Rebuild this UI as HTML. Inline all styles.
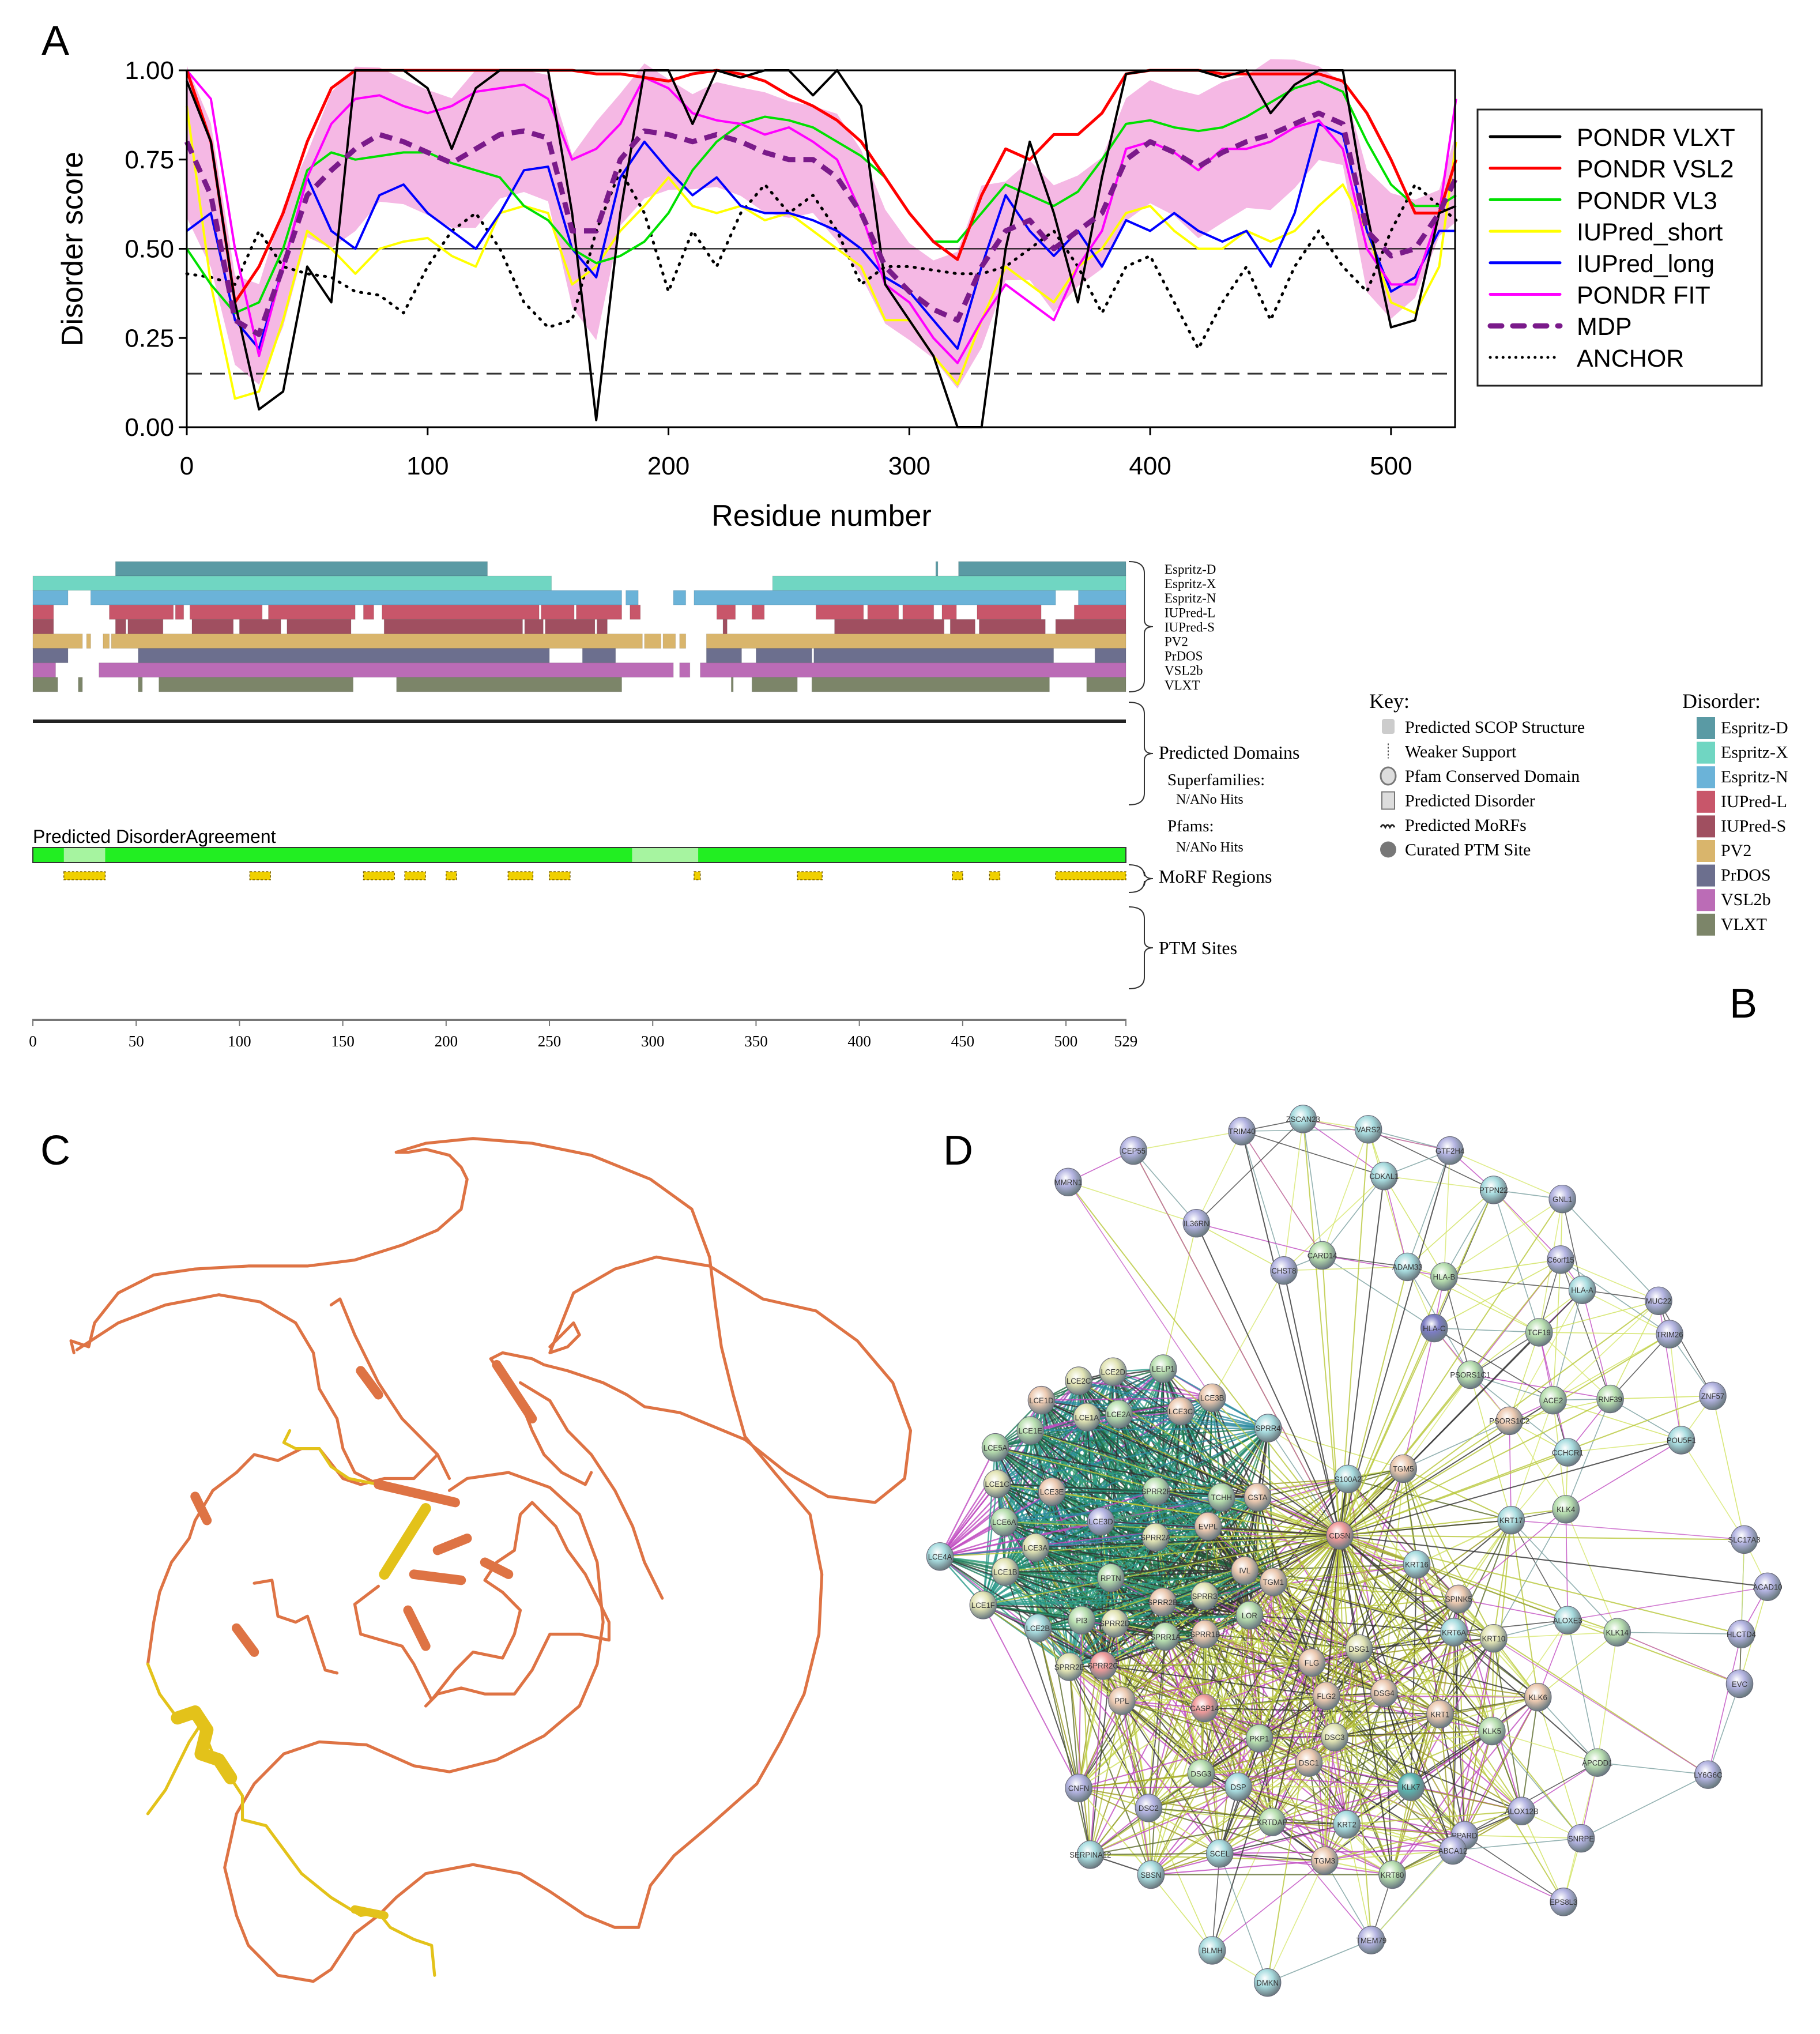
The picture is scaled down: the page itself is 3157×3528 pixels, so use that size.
<!DOCTYPE html>
<html><head><meta charset="utf-8"><style>
html,body{margin:0;padding:0;background:#fff}
#page{position:relative;width:3157px;height:3528px;overflow:hidden;background:#fff;font-family:"Liberation Sans",sans-serif}
svg{position:absolute;overflow:visible}
.lbl{position:absolute;font-size:72px;color:#000;font-family:"Liberation Sans",sans-serif}
</style></head><body>
<div id="page">
<div class="lbl" style="left:72px;top:30px">A</div>
<div class="lbl" style="left:3000px;top:1700px">B</div>
<div class="lbl" style="left:70px;top:1955px">C</div>
<div class="lbl" style="left:1636px;top:1955px">D</div>

<svg id="chartA" width="3157" height="950" style="left:0;top:0"></svg>
<svg id="chartB" width="3157" height="900" style="left:0;top:940px"></svg>
<svg id="panelC" width="1600" height="1628" viewBox="0 0 1560 1568" preserveAspectRatio="none" style="left:0;top:1900px"></svg>
<svg id="panelD" width="1577" height="1648" viewBox="0 0 1560 1568" preserveAspectRatio="none" style="left:1580px;top:1880px"></svg>
</div>
<script>
const NS="http://www.w3.org/2000/svg";
function mk(p,t,a){const e=document.createElementNS(NS,t);for(const k in a)e.setAttribute(k,a[k]);p.appendChild(e);return e;}

// ===== Panel A data =====
const residues=[0,10,20,30,40,50,60,70,80,90,100,110,120,130,140,150,160,170,180,190,200,210,220,230,240,250,260,270,280,290,300,310,320,330,340,350,360,370,380,390,400,410,420,430,440,450,460,470,480,490,500,510,520,527];
const vlxt=[0.97,0.8,0.35,0.05,0.1,0.45,0.35,1.0,1.0,1.0,0.95,0.78,0.95,1.0,1.0,1.0,0.6,0.02,0.6,1.0,1.0,0.85,1.0,0.98,1.0,1.0,0.93,1.0,0.9,0.4,0.3,0.2,0.0,0.0,0.5,0.8,0.6,0.35,0.7,0.99,1.0,1.0,1.0,0.98,1.0,0.88,0.96,1.0,1.0,0.6,0.28,0.3,0.6,0.62];
const vsl2=[1.0,0.8,0.35,0.45,0.6,0.8,0.95,1.0,1.0,1.0,1.0,1.0,1.0,1.0,1.0,1.0,1.0,0.99,0.99,0.98,0.97,0.99,1.0,0.99,0.97,0.93,0.9,0.86,0.8,0.7,0.6,0.52,0.47,0.65,0.78,0.75,0.82,0.82,0.88,0.99,1.0,1.0,1.0,0.99,0.99,0.99,0.99,0.99,0.97,0.88,0.75,0.6,0.6,0.75];
const vl3=[0.5,0.4,0.32,0.35,0.5,0.72,0.77,0.75,0.76,0.77,0.77,0.74,0.72,0.7,0.62,0.58,0.5,0.46,0.48,0.52,0.6,0.72,0.8,0.85,0.87,0.86,0.84,0.8,0.76,0.7,0.6,0.52,0.52,0.6,0.68,0.65,0.62,0.66,0.75,0.85,0.86,0.84,0.83,0.84,0.87,0.91,0.95,0.97,0.94,0.8,0.68,0.62,0.62,0.65];
const iushort=[0.9,0.4,0.08,0.1,0.3,0.55,0.5,0.43,0.5,0.52,0.53,0.48,0.45,0.6,0.62,0.6,0.4,0.45,0.55,0.62,0.7,0.62,0.6,0.62,0.58,0.6,0.55,0.5,0.45,0.3,0.3,0.2,0.12,0.3,0.45,0.4,0.35,0.45,0.5,0.6,0.62,0.55,0.5,0.5,0.55,0.52,0.55,0.62,0.68,0.55,0.35,0.32,0.45,0.8];
const iulong=[0.55,0.6,0.3,0.22,0.45,0.7,0.55,0.5,0.65,0.68,0.6,0.55,0.5,0.6,0.72,0.73,0.5,0.42,0.7,0.8,0.72,0.65,0.7,0.62,0.6,0.6,0.58,0.55,0.5,0.42,0.38,0.3,0.22,0.45,0.65,0.55,0.48,0.55,0.45,0.58,0.55,0.6,0.55,0.52,0.55,0.45,0.6,0.85,0.82,0.55,0.38,0.42,0.55,0.55];
const fit=[1.0,0.92,0.5,0.2,0.45,0.7,0.85,0.92,0.93,0.9,0.88,0.9,0.94,0.95,0.96,0.92,0.75,0.78,0.85,0.98,0.95,0.88,0.86,0.85,0.82,0.84,0.8,0.75,0.6,0.4,0.35,0.25,0.18,0.3,0.4,0.35,0.3,0.45,0.55,0.78,0.8,0.77,0.72,0.78,0.78,0.8,0.84,0.86,0.78,0.5,0.4,0.4,0.6,0.92];
const mdp=[0.8,0.65,0.3,0.26,0.45,0.65,0.72,0.78,0.82,0.8,0.77,0.74,0.78,0.82,0.83,0.81,0.55,0.55,0.75,0.83,0.82,0.8,0.82,0.8,0.77,0.75,0.75,0.7,0.6,0.45,0.38,0.33,0.3,0.45,0.55,0.58,0.5,0.55,0.6,0.75,0.8,0.77,0.73,0.77,0.8,0.82,0.85,0.88,0.85,0.55,0.48,0.5,0.6,0.7];
const anchor=[0.43,0.42,0.4,0.55,0.45,0.43,0.42,0.38,0.37,0.32,0.45,0.55,0.6,0.5,0.35,0.28,0.3,0.55,0.72,0.6,0.38,0.55,0.45,0.6,0.68,0.6,0.65,0.55,0.4,0.45,0.45,0.44,0.43,0.43,0.45,0.5,0.55,0.45,0.32,0.45,0.48,0.35,0.22,0.35,0.45,0.3,0.45,0.55,0.45,0.38,0.55,0.68,0.62,0.58];
const yTicks=["0.00","0.25","0.50","0.75","1.00"];
const xTicks=["0","100","200","300","400","500"];
const legendNames=["PONDR VLXT","PONDR VSL2","PONDR VL3","IUPred_short","IUPred_long","PONDR FIT","MDP","ANCHOR"];

// ===== Panel B data =====
const trackLabels=["Espritz-D","Espritz-X","Espritz-N","IUPred-L","IUPred-S","PV2","PrDOS","VSL2b","VLXT"];
const espD=[[40,220],[437,438],[448,529]];
const espX=[[0,251],[358,529]];
const espN=[[0,17],[28,285],[287,293],[310,316],[320,495],[506,529]];
const iupL=[[0,10],[37,68],[69,73],[76,111],[114,156],[160,165],[169,245],[246,262],[263,285],[289,294],[331,340],[348,354],[379,402],[404,419],[421,436],[440,447],[457,488],[504,529]];
const iupS=[[0,10],[40,45],[46,63],[77,97],[100,120],[123,154],[170,237],[238,247],[248,272],[273,278],[334,336],[388,441],[444,456],[458,490],[495,529]];
const pv2=[[0,24],[26,28],[34,37],[38,295],[296,304],[305,311],[313,316],[326,529]];
const prdos=[[0,17],[51,250],[266,282],[326,343],[350,377],[378,494],[514,529]];
const vsl2b=[[0,11],[32,310],[313,318],[323,529]];
const vlxtB=[[0,12],[22,24],[51,53],[61,155],[176,285],[338,339],[348,370],[377,492],[510,529]];
const morfs=[[15,35],[105,115],[160,175],[180,190],[200,205],[230,242],[250,260],[320,323],[370,382],[445,450],[463,468],[495,529]];
const agreeLow=[[15,35],[290,322]];
const bTicks=[0,50,100,150,200,250,300,350,400,450,500,529];
const keyItems=["Predicted SCOP Structure","Weaker Support","Pfam Conserved Domain","Predicted Disorder","Predicted MoRFs","Curated PTM Site"];

// ===== Panel A drawing =====
(function(){
const s=document.getElementById('chartA');
const X0=324,X1=2524,Y0=741,Y1=122,XMAX=526.6;
const xs=r=>X0+(X1-X0)*r/XMAX, ys=v=>Y0-(Y0-Y1)*v;
const preds=[vlxt,vsl2,vl3,iushort,iulong,fit];
let up=[],lo=[];
residues.forEach((r,i)=>{const vals=preds.map(a=>a[i]);const m=mdp[i];const sd=Math.sqrt(vals.reduce((a,v)=>a+(v-m)*(v-m),0)/vals.length);
 up.push([xs(r),ys(Math.min(1.08,m+sd))]);lo.push([xs(r),ys(Math.max(0,m-sd))]);});
const band=mk(s,'path',{d:'M'+up.map(p=>p.join(',')).join('L')+'L'+lo.reverse().map(p=>p.join(',')).join('L')+'Z',fill:'#f5b8e4',stroke:'none'});

mk(s,'line',{x1:X0,y1:ys(0.5),x2:X1,y2:ys(0.5),stroke:'#000','stroke-width':2});
mk(s,'line',{x1:X0,y1:ys(0.15),x2:X1,y2:ys(0.15),stroke:'#333','stroke-width':3,'stroke-dasharray':'26,14'});
const series=[[anchor,'#000',5,'2,12','round'],[iushort,'#ffff00',4,null],[iulong,'#0000ff',4,null],[vl3,'#00e000',4,null],[fit,'#ff00ff',4,null],[vsl2,'#ff0000',5,null],[vlxt,'#000',4,null],[mdp,'#7a1a8a',9,'22,14']];
const names=['anchor-line','iupred-short-line','iupred-long-line','vl3-line','fit-line','vsl2-line','vlxt-line','mdp-line'];
series.forEach((sr,k)=>{const d='M'+residues.map((r,i)=>xs(r).toFixed(1)+','+ys(sr[0][i]).toFixed(1)).join('L');
 const a={d:d,fill:'none',stroke:sr[1],'stroke-width':sr[2],'stroke-linejoin':'round'};if(sr[3]){a['stroke-dasharray']=sr[3];a['stroke-linecap']=sr[4]||'butt';}
 const p=mk(s,'path',a);});
mk(s,'rect',{x:X0,y:Y1,width:X1-X0,height:Y0-Y1,fill:'none',stroke:'#000','stroke-width':3});
yTicks.forEach(t=>{const y=ys(parseFloat(t));mk(s,'line',{x1:X0-14,y1:y,x2:X0,y2:y,stroke:'#000','stroke-width':3});
 const e=mk(s,'text',{x:X0-22,y:y+15,'text-anchor':'end','font-size':44,'font-family':'Liberation Sans'});e.textContent=t;
 });
xTicks.forEach(t=>{const x=xs(parseFloat(t));mk(s,'line',{x1:x,y1:Y0,x2:x,y2:Y0+14,stroke:'#000','stroke-width':3});
 const e=mk(s,'text',{x:x,y:823,'text-anchor':'middle','font-size':44,'font-family':'Liberation Sans'});e.textContent=t;
 });
let e=mk(s,'text',{x:1425,y:912,'text-anchor':'middle','font-size':52,'font-family':'Liberation Sans'});e.textContent='Residue number';

e=mk(s,'text',{x:0,y:0,'text-anchor':'middle','font-size':52,'font-family':'Liberation Sans',transform:'translate(143,432) rotate(-90)'});e.textContent='Disorder score';

const lg=mk(s,'g',{});
mk(lg,'rect',{x:2563,y:190,width:493,height:479,fill:'#fff',stroke:'#222','stroke-width':3});
const lc=['#000','#ff0000','#00e000','#ffff00','#0000ff','#ff00ff','#7a1a8a','#000'];
legendNames.forEach((n,i)=>{const y=237+i*54.7;
 const a={x1:2585,y1:y,x2:2706,y2:y,stroke:lc[i],'stroke-width':i==6?9:5,'stroke-linecap':'round'};
 if(i==6)a['stroke-dasharray']='20,19';if(i==7)a['stroke-dasharray']='0.1,11';
 mk(lg,'line',a);const t=mk(lg,'text',{x:2735,y:y+16,'font-size':43,'font-family':'Liberation Sans'});t.textContent=n;
 });
})();

// ===== Panel B drawing =====
(function(){
const s=document.getElementById('chartB');const OY=940;
const bx=r=>57+r*(1953-57)/529;
const tracks=[espD,espX,espN,iupL,iupS,pv2,prdos,vsl2b,vlxtB];
const cols=['#5a9aa4','#70d6c2','#6bb3d8','#c8566a','#a04f60','#d9b56c','#6c6f8e','#bb6cb6','#7c8569'];
tracks.forEach((t,i)=>{const y=974+i*25.1-OY;t.forEach(sg=>{const r=mk(s,'rect',{x:bx(sg[0]),y:y,width:Math.max(2,bx(sg[1])-bx(sg[0])),height:25,fill:cols[i],stroke:'rgba(0,0,0,0.12)','stroke-width':1});
 });
 const tx=mk(s,'text',{x:2020,y:y+21,'font-size':23,'font-family':'Liberation Serif'});tx.textContent=trackLabels[i];
 });
function brace(y1,y2){const m=(y1+y2)/2;mk(s,'path',{d:`M1958,${y1} Q1985,${y1} 1985,${y1+20} L1985,${m-12} Q1985,${m} 2000,${m} Q1985,${m} 1985,${m+12} L1985,${y2-20} Q1985,${y2} 1958,${y2}`,fill:'none',stroke:'#333','stroke-width':2});}
brace(974-OY,1200-OY);brace(1218-OY,1396-OY);brace(1500-OY,1548-OY);brace(1573-OY,1715-OY);
mk(s,'rect',{x:57,y:1248-OY,width:1896,height:6,fill:'#222'});
function txt(x,y,t,fs,nm,fam){const e=mk(s,'text',{x:x,y:y-OY,'font-size':fs,'font-family':fam||'Liberation Serif'});e.textContent=t;return e;}
txt(2010,1316,'Predicted Domains',32,'predicted-domains-label');
txt(2025,1362,'Superfamilies:',29,'superfamilies-label');
txt(2040,1394,'N/ANo Hits',24,'superfamilies-value');
txt(2025,1442,'Pfams:',29,'pfams-label');
txt(2040,1477,'N/ANo Hits',24,'pfams-value');
txt(2010,1531,'MoRF Regions',32,'morf-regions-label');
txt(2010,1655,'PTM Sites',32,'ptm-sites-label');
txt(57,1462,'Predicted DisorderAgreement',32,'agreement-title','Liberation Sans');
const g=mk(s,'rect',{x:57,y:1470-OY,width:1896,height:26,fill:'#22ee22',stroke:'#333','stroke-width':2});

agreeLow.forEach(a=>{mk(s,'rect',{x:bx(a[0]),y:1471-OY,width:bx(a[1])-bx(a[0]),height:24,fill:'#c8f5c0',opacity:0.8});});
morfs.forEach(m=>{const r=mk(s,'rect',{x:bx(m[0]),y:1512-OY,width:bx(m[1])-bx(m[0]),height:14,fill:'#f0d000',stroke:'#7a6000','stroke-width':1.5,'stroke-dasharray':'4,3'});
 });
mk(s,'rect',{x:57,y:1767-OY,width:1896,height:4,fill:'#777'});
bTicks.forEach(t=>{const x=bx(t);mk(s,'line',{x1:x,y1:1767-OY,x2:x,y2:1780-OY,stroke:'#777','stroke-width':2});
 const e=mk(s,'text',{x:x,y:1815-OY,'text-anchor':'middle','font-size':27,'font-family':'Liberation Serif'});e.textContent=t;
 });
txt(2375,1228,'Key:',36,'key-title');
keyItems.forEach((k,i)=>{const y=1261+i*42.5;
 if(i==0)mk(s,'rect',{x:2397,y:y-OY-14,width:22,height:26,rx:4,fill:'#ccc'});
 if(i==1)mk(s,'line',{x1:2408,y1:y-OY-14,x2:2408,y2:y-OY+12,stroke:'#555','stroke-width':2,'stroke-dasharray':'3,3'});
 if(i==2)mk(s,'ellipse',{cx:2408,cy:y-OY,rx:13,ry:15,fill:'#ddd',stroke:'#777','stroke-width':3});
 if(i==3)mk(s,'rect',{x:2397,y:y-OY-15,width:22,height:30,fill:'#ddd',stroke:'#777','stroke-width':2});
 if(i==4)mk(s,'path',{d:`M2395,${y-OY+4} q4,-8 8,0 q4,-8 8,0 q4,-8 8,0`,fill:'none',stroke:'#222','stroke-width':3});
 if(i==5){mk(s,'circle',{cx:2408,cy:y-OY,r:14,fill:'#777'});}
 txt(2437,y+10,k,30,'key-item');});
txt(2918,1228,'Disorder:',36,'disorder-key-title');
trackLabels.forEach((n,i)=>{const y=1262+i*42.6;mk(s,'rect',{x:2943,y:y-OY-18,width:32,height:38,fill:cols[i]});txt(2985,y+10,n,30,'disorder-key-item');});
})();

// ===== Panel C (protein structure, schematic) =====
(function(){
const s=document.getElementById('panelC');const O='#de7344',Y='#e3c21a';
function P(pts,c,w,nm){const d='M'+pts.map(p=>p.join(',')).join(' L');const e=mk(s,'path',{d:d,fill:'none',stroke:c,'stroke-width':w,'stroke-linejoin':'round','stroke-linecap':'round'});}
P([[125,430],[120,410],[150,420],[160,380],[200,330],[260,300],[330,290],[420,285],[520,285],[600,275],[680,250],[740,225],[780,190],[790,140],[780,120],[760,100],[720,90],[690,95],[670,95],[720,80],[800,72],[900,80],[1000,100],[1100,140],[1170,190],[1200,270],[1210,350],[1220,420],[1240,500],[1260,570],[1310,630],[1370,700],[1390,800],[1385,900],[1360,1000],[1320,1080],[1280,1150],[1200,1220],[1140,1270],[1100,1320],[1080,1390],[1040,1390],[990,1370],[930,1330],[880,1300],[800,1285],[720,1300],[670,1340],[640,1370],[600,1400],[560,1460],[530,1480],[470,1470],[420,1420],[400,1370],[380,1290],[400,1200],[430,1150],[480,1100],[540,1080],[620,1085],[700,1120],[760,1130],[840,1110],[920,1070],[980,1020],[1010,950],[1020,880],[1010,780],[980,700],[930,655],[860,630],[790,640],[760,660]],O,5,'backbone-outer');
P([[930,420],[970,380],[980,400],[960,420],[930,430],[970,330],[1040,290],[1110,270],[1200,285],[1290,340],[1380,360],[1450,410],[1510,480],[1540,560],[1530,640],[1480,680],[1400,670],[1330,630],[1260,575],[1150,530],[1090,520],[1060,500],[1020,480],[960,460],[920,450],[900,440],[850,430],[830,440]],O,5,'backbone-right-loop');
P([[130,425],[200,380],[280,350],[370,333],[440,345],[500,380],[530,430],[540,490],[570,540],[580,590],[600,630],[640,650]],O,5,'backbone-left');
P([[560,350],[575,340],[600,400],[620,440],[640,480],[660,510],[680,540],[710,570],[740,600],[760,640]],O,5,'backbone-inner');
P([[830,440],[850,470],[880,510],[900,560],[920,600],[950,630],[990,650],[1000,630]],O,5,'backbone-strand1');
P([[880,480],[930,510],[960,560],[1000,600],[1040,660],[1070,720],[1090,780],[1120,840]],O,5,'backbone-strand2');
P([[430,815],[460,810],[470,870],[500,880],[520,870],[550,960],[570,965]],O,5,'backbone-tangle1');
P([[640,820],[600,850],[610,900],[680,920],[700,950],[730,1010],[770,960],[800,930],[850,940],[870,900],[880,860],[850,830],[820,810],[840,780],[870,760],[880,700],[900,680],[940,720],[960,760],[990,800],[1030,880],[1030,910],[980,900],[930,900],[900,960],[870,1000],[820,1000],[780,990],[740,1000],[720,1020]],O,5,'backbone-tangle2');
P([[740,600],[700,640],[650,640],[610,650],[580,640],[540,590],[510,590],[490,600],[470,610],[430,600],[400,630],[360,660],[330,710],[320,740],[290,780],[270,830],[260,880],[250,950]],O,5,'backbone-left-arc');
P([[250,950],[270,1000],[300,1040]],Y,5,'yellow-segment1');
P([[490,560],[480,580],[500,590],[540,590],[560,620],[590,640],[640,650]],Y,5,'yellow-segment2');
P([[250,1200],[280,1160],[320,1080],[340,1050],[360,1100],[390,1140],[410,1170],[410,1210],[450,1220],[480,1260],[510,1300],[560,1340],[610,1370],[640,1365],[660,1390],[700,1410],[730,1420],[735,1470]],Y,5,'yellow-segment3');
P([[300,1040],[330,1030],[350,1060],[340,1100],[370,1110],[390,1140]],Y,22,'yellow-helix');
P([[650,800],[720,690]],Y,18,'yellow-strand');
P([[600,1360],[650,1370]],Y,14,'yellow-helix2');
[[[610,460],[640,500]],[[840,450],[900,540]],[[330,670],[350,710]],[[400,890],[430,930]],[[690,860],[720,920]],[[700,800],[780,810]],[[820,780],[860,800]],[[640,650],[770,680]],[[740,760],[790,740]]].forEach(sg=>P(sg,O,16,'helix-ribbon'));
})();

// ===== Panel D (network) =====
const nodeNames=["TRIM40","ZSCAN23","VARS2","GTF2H4","CEP55","MMRN1","CDKAL1","PTPN22","GNL1","IL36RN","CARD14","ADAM33","CHST8","HLA-B","C6orf15","HLA-A","MUC22","HLA-C","TCF19","TRIM26","PSORS1C1","LCE2D","LELP1","LCE2C","LCE1D","LCE3B","LCE3C","ACE2","RNF39","ZNF57","LCE2A","LCE1A","LCE1E","SPRR4","PSORS1C2","LCE5A","POU5F1","CCHCR1","S100A2","TGM5","LCE1C","LCE3E","SPRR2F","TCHH","CSTA","KRT17","KLK4","LCE6A","LCE3D","SPRR2A","EVPL","CDSN","SLC17A3","LCE4A","LCE3A","KRT16","LCE1B","RPTN","IVL","TGM1","ACAD10","SPINK5","SPRR3","SPRR2B","LCE1F","LOR","ALOXE3","KLK14","HLCTD4","LCE2B","PI3","SPRR2D","SPRR1A","SPRR1B","KRT6A","KRT10","DSG1","FLG","SPRR2E","SPRR2G","EVC","KLK6","PPL","CASP14","FLG2","DSG4","KRT1","KLK5","PKP1","DSC3","APCDD1","DSC1","LY6G6C","DSG3","DSP","CNFN","KLK7","DSC2","ALOX12B","KRTDAP","KRT2","PPARD","ABCA12","SNRPE","SERPINA12","SCEL","TGM3","SBSN","KRT80","EPS8L3","TMEM79","BLMH","DMKN"];
const nodeX=[568,673,785,925,382,270,812,1000,1118,490,706,852,640,915,1115,1152,1283,898,1078,1302,960,347,433,288,224,517,463,1102,1200,1376,357,302,205,613,1027,145,1322,1127,750,845,148,242,421,533,595,1030,1124,160,326,420,510,736,1430,50,214,868,162,343,573,622,1470,940,504,432,124,581,1127,1212,1425,218,293,350,437,505,932,1000,769,688,272,330,1422,1076,362,504,713,812,908,997,598,727,1178,683,1368,498,562,288,858,408,1048,620,748,950,930,1150,308,530,710,412,826,1120,790,517,612];
const nodeY=[78,58,75,110,110,162,152,175,190,230,283,302,308,318,290,340,358,403,410,413,480,475,470,490,522,518,540,522,520,515,545,550,572,568,556,600,588,608,652,635,660,673,672,682,682,720,702,723,722,748,730,745,752,780,765,793,805,815,803,822,830,850,845,855,860,877,885,905,908,898,885,890,912,908,905,915,932,955,962,960,990,1012,1018,1030,1010,1005,1040,1068,1080,1078,1120,1120,1140,1138,1160,1162,1160,1195,1200,1218,1222,1240,1265,1245,1272,1270,1282,1305,1305,1350,1413,1430,1483];
const nodeType="b c c b b b c c b b g c b g b c b d g b g y g y p p p g g b g y g c p g c c c p y p g g p c g g b y p r b c y c y g p p b p y p y g c g b c g y g p c y y p y r b p p r p p p g g y g p b g c b t b b g c b b b c c p c g b b c c".split(' ');
(function(){
const s=document.getElementById('panelD');
const fills={g:'#b9e0b0',b:'#b4b4e2',p:'#ecc9b0',c:'#a9dde0',r:'#f19b9b',y:'#e2e4b4',d:'#7c7cc4',t:'#5ab5b0'};
const defs=mk(s,'defs',{});
for(const k in fills){const rg=mk(defs,'radialGradient',{id:'g'+k,cx:'40%',cy:'35%',r:'65%'});mk(rg,'stop',{offset:'0%','stop-color':'#fff'});mk(rg,'stop',{offset:'45%','stop-color':fills[k]});mk(rg,'stop',{offset:'100%','stop-color':'#6a7a80'});}
const ecL=['#1e7a5a','#2a9a8a','#333','#1f6a40','#c04ac0','#2a8aa0','#3aa070'];
const ecC=['#b8c83a','#333','#9a9a20','#c04ac0','#d0e060','#5a6a2a'];
const ecR=['#cfe25a','#444','#7aa0a0','#c04ac0','#d8e870'];
const eg=mk(s,'g',{});
const n=nodeNames.length;
const inL=i=>nodeX[i]<650&&nodeY[i]>440&&nodeY[i]<1000;
const inC=i=>nodeX[i]<1100&&nodeY[i]>620&&nodeY[i]<1320;
for(let i=0;i<n;i++)for(let j=i+1;j<n;j++){const d=Math.hypot(nodeX[i]-nodeX[j],nodeY[i]-nodeY[j]);
 let lim=260,cols=ecR,w=1.6;
 if(inL(i)&&inL(j)){lim=520;cols=ecL;w=2.4;} else if(inC(i)&&inC(j)){lim=420;cols=ecC;w=2;}
 if(d<lim){mk(eg,'line',{x1:nodeX[i],y1:nodeY[i],x2:nodeX[j],y2:nodeY[j],stroke:cols[(i*7+j)%cols.length],'stroke-width':w,opacity:0.8});}}
const hub=nodeNames.indexOf('CDSN');
for(let j=0;j<n;j++){if(j==hub)continue;const d=Math.hypot(nodeX[hub]-nodeX[j],nodeY[hub]-nodeY[j]);if(d<750&&d>=260)mk(eg,'line',{x1:nodeX[hub],y1:nodeY[hub],x2:nodeX[j],y2:nodeY[j],stroke:j%3?'#b8c83a':'#333','stroke-width':2,opacity:0.8});}
[["MMRN1","LCE3B"],["CEP55","CDSN"],["SLC17A3","KRT17"],["ACAD10","ALOXE3"],["LY6G6C","KRT10"],["EVC","KLK14"],["TRIM40","CARD14"],["ZSCAN23","GTF2H4"]].forEach(p=>{const a=nodeNames.indexOf(p[0]),b=nodeNames.indexOf(p[1]);mk(eg,'line',{x1:nodeX[a],y1:nodeY[a],x2:nodeX[b],y2:nodeY[b],stroke:'#c04ac0','stroke-width':1.6,opacity:0.7});});
nodeNames.forEach((nm,i)=>{const g=mk(s,'g',{});
 mk(g,'circle',{cx:nodeX[i],cy:nodeY[i],r:23,fill:'url(#g'+(nodeType[i]||'c')+')',stroke:'#667','stroke-width':1});
 const t=mk(g,'text',{x:nodeX[i],y:nodeY[i]+5,'text-anchor':'middle','font-size':13,'font-family':'Liberation Sans',fill:'#333'});t.textContent=nm;});
})();
</script>
</body></html>
